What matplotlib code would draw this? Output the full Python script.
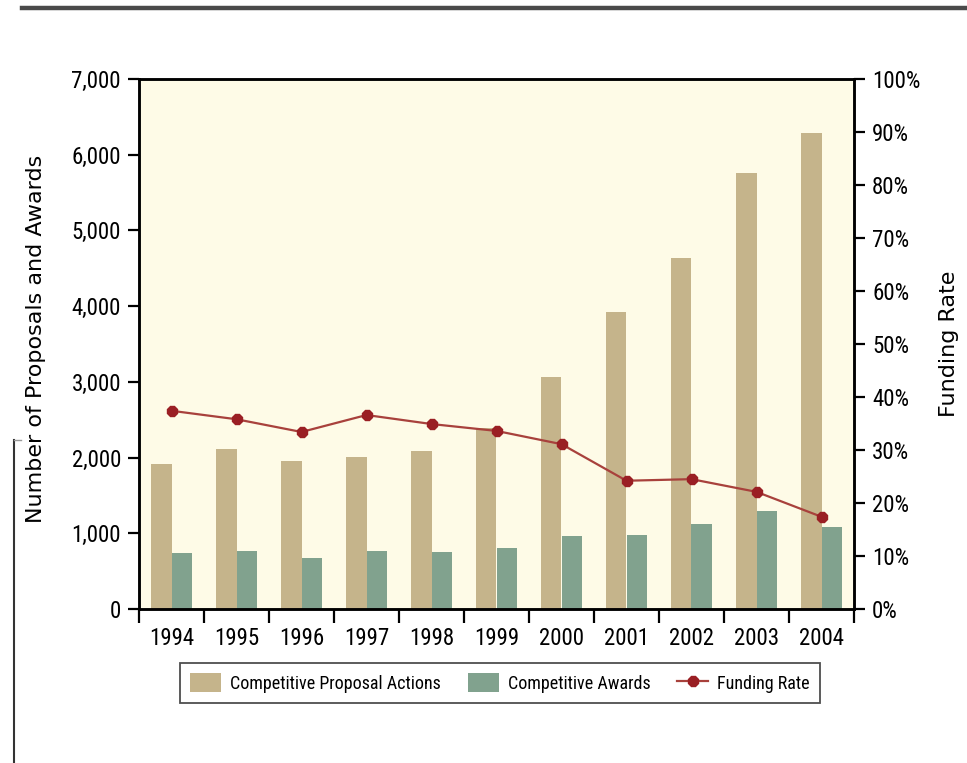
import matplotlib.pyplot as plt
import numpy as np
from matplotlib.lines import Line2D
from matplotlib.ticker import FuncFormatter

years = ['1994', '1995', '1996', '1997', '1998', '1999', '2000', '2001', '2002', '2003', '2004']
proposals = [1915, 2113, 1955, 2008, 2087, 2390, 3065, 3923, 4637, 5760, 6288]
awards = [740, 766, 674, 766, 753, 806, 964, 977, 1123, 1295, 1083]
funding_rate = [37.4, 35.8, 33.4, 36.6, 34.9, 33.6, 31.1, 24.2, 24.5, 22.1, 17.4]

tan = '#c5b48b'
green = '#81a28e'
red_line = '#a8413c'
red_mark = '#9a1f24'
cream = '#fefbe7'
narrow = ['Roboto Condensed', 'DejaVu Sans']
wide = ['DejaVu Sans']

fig = plt.figure(figsize=(9.67, 7.63), dpi=100)
ax = fig.add_axes([139 / 967, 1 - 609 / 763, 715 / 967, 530 / 763])
ax.set_facecolor(cream)

x = np.arange(len(years))
w = 0.31
ax.bar(x - w / 2, proposals, w, color=tan, label='Competitive Proposal Actions', zorder=2)
ax.bar(x + w / 2, awards, w, color=green, label='Competitive Awards', zorder=2)

ax.set_xlim(-0.5, len(years) - 0.5)
ax.set_ylim(0, 7000)
ax.set_yticks(range(0, 7001, 1000))
ax.yaxis.set_major_formatter(FuncFormatter(lambda v, p: f'{int(v):,}'))
ax.set_xticks(x)
ax.set_xticklabels(years)
ax.set_xticks(np.arange(-0.5, len(years)), minor=True)
ax.tick_params(axis='x', which='major', length=0, pad=13)
ax.tick_params(axis='x', which='minor', length=10, width=1.6)
ax.tick_params(axis='y', length=8, width=1.6, pad=5)
for lab in ax.get_xticklabels() + ax.get_yticklabels():
    lab.set_family(narrow)
    lab.set_fontsize(16.5)
for s in ax.spines.values():
    s.set_linewidth(1.8)
ax.set_ylabel('Number of Proposals and Awards', fontsize=16, family=wide)
ax.yaxis.set_label_coords(-139 / 715 + 46 / 715, 0.51)

# funding rate on the right axis
ax2 = ax.twinx()
ax2.plot(x, funding_rate, color=red_line, lw=1.6, marker='8', ms=8,
         mfc=red_mark, mec=red_mark, label='Funding Rate', zorder=3)
ax2.set_ylim(0, 100)
ax2.set_yticks(range(0, 101, 10))
ax2.yaxis.set_major_formatter(FuncFormatter(lambda v, p: f'{int(v)}%'))
ax2.tick_params(axis='y', length=8, width=1.6, pad=5)
for lab in ax2.get_yticklabels():
    lab.set_family(narrow)
    lab.set_fontsize(16.5)
for s in ax2.spines.values():
    s.set_linewidth(1.8)
ax2.set_ylabel('Funding Rate', fontsize=16, family=wide)
ax2.yaxis.set_label_coords((939 - 139) / 715, 0.5)

h1, l1 = ax.get_legend_handles_labels()
h2, l2 = ax2.get_legend_handles_labels()
leg = fig.legend(h1 + h2, l1 + l2, loc='center', ncol=3, bbox_to_anchor=(500 / 967, 1 - 683 / 763),
                 frameon=True, fancybox=False, edgecolor='#222222', prop={'family': narrow, 'size': 13},
                 handlelength=1.7, handleheight=1.2, columnspacing=1.5, handletextpad=0.5,
                 borderpad=0.55, borderaxespad=0)
leg.get_frame().set_linewidth(1.3)

# page rules
fig.add_artist(Line2D([22 / 967, 1], [1 - 8 / 763, 1 - 8 / 763], color='#4a4a4a', lw=3.2))
fig.add_artist(Line2D([14 / 967, 14 / 967], [0, 1 - 440 / 763], color='#333333', lw=1.5))
fig.add_artist(Line2D([14 / 967, 21 / 967], [1 - 440 / 763, 1 - 440 / 763], color='#999999', lw=1))

fig.savefig('out.png', dpi=100)
